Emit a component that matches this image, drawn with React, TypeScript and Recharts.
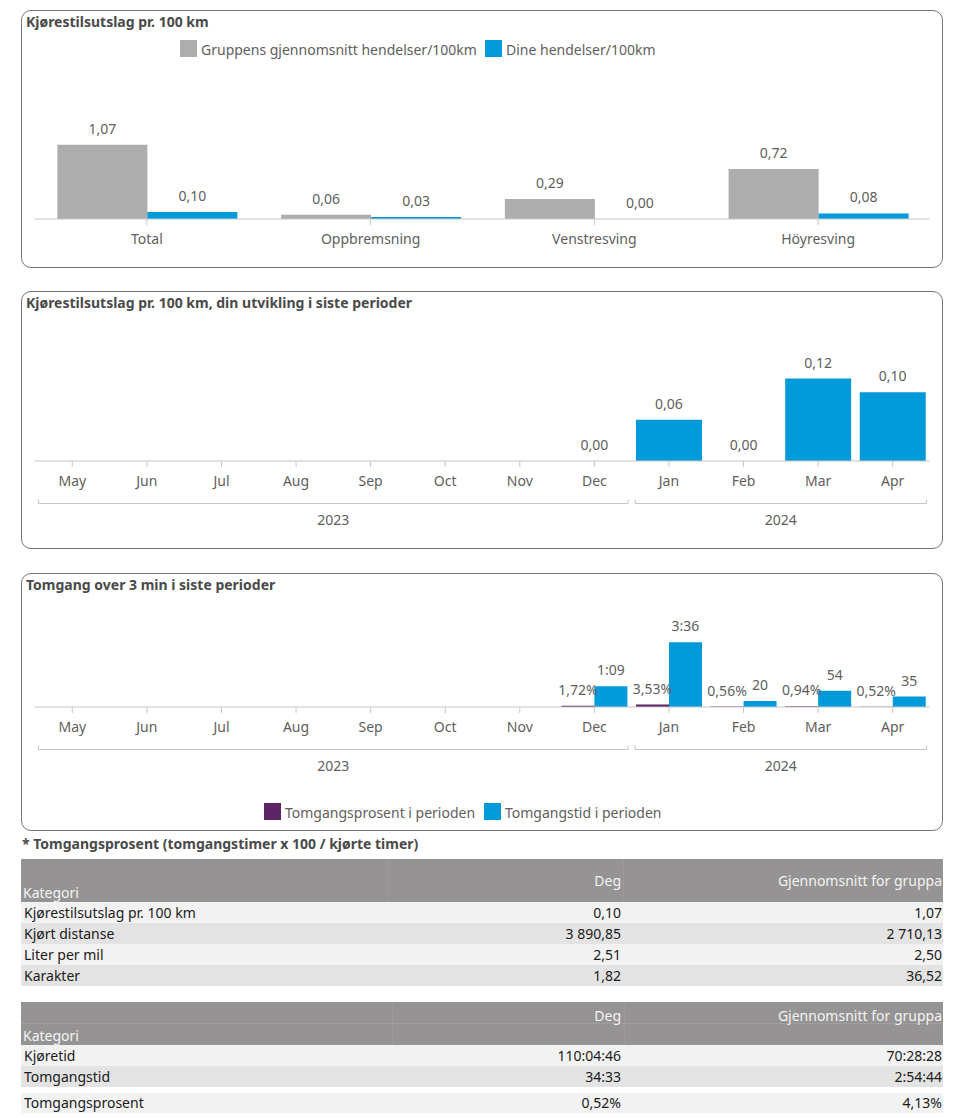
import React from 'react';
import { BarChart, Bar, XAxis, YAxis, LabelList } from 'recharts';

const FONT = '"Segoe UI", "Noto Sans", "Open Sans", sans-serif';
const AXIS_COLOR = '#C8C6C4';
const TEXT_COLOR = '#605E5C';
const GRAY = '#ADADAD';
const BLUE = '#0099DA';
const PURPLE = '#5C2367';

// Chart 1 data
const styleCategories = ['Total', 'Oppbremsning', 'Venstresving', 'Höyresving'];
const groupAvg = [1.07, 0.06, 0.29, 0.72];
const myEvents = [0.1, 0.03, 0.0, 0.08];

// Month axis
const months = ['May', 'Jun', 'Jul', 'Aug', 'Sep', 'Oct', 'Nov', 'Dec', 'Jan', 'Feb', 'Mar', 'Apr'];
const monthYears = ['2023', '2023', '2023', '2023', '2023', '2023', '2023', '2023', '2024', '2024', '2024', '2024'];

// Chart 2 data
const myTrend: (number | null)[] = [null, null, null, null, null, null, null, 0.0, 0.06, 0.0, 0.12, 0.1];

// Chart 3 data
const idlePct: (number | null)[] = [null, null, null, null, null, null, null, 1.72, 3.53, 0.56, 0.94, 0.52];
const idleSec: (number | null)[] = [null, null, null, null, null, null, null, 69, 216, 20, 54, 35];

// Tables
const table1Labels = ['Kjørestilsutslag pr. 100 km', 'Kjørt distanse', 'Liter per mil', 'Karakter'];
const table1Mine = ['0,10', '3 890,85', '2,51', '1,82'];
const table1Group = ['1,07', '2 710,13', '2,50', '36,52'];
const table2Labels = ['Kjøretid', 'Tomgangstid'];
const table2Mine = ['110:04:46', '34:33'];
const table2Group = ['70:28:28', '2:54:44'];
const pctLabel = 'Tomgangsprosent';
const pctMine = '0,52%';
const pctGroup = '4,13%';

const styleData = styleCategories.map((c, i) => ({ cat: c, group: groupAvg[i], mine: myEvents[i] }));
const trendData = months.map((m, i) => ({ month: m, value: myTrend[i] }));
const idleData = months.map((m, i) => ({ month: m, pct: idlePct[i], sec: idleSec[i] }));

const CHART_W = 922;
const CHART_H = 258;
const M_LEFT = 14;
const M_RIGHT = 13;
const PLOT_W = CHART_W - M_LEFT - M_RIGHT;
const BAND = PLOT_W / months.length;

const fmt2 = (v: any) => (v === null || v === undefined ? '' : Number(v).toFixed(2).replace('.', ','));
const fmtPct = (v: any) => (v === null || v === undefined ? '' : Number(v).toFixed(2).replace('.', ',') + '%');
const fmtSec = (v: any) => {
  if (v === null || v === undefined) return '';
  const s = Math.round(Number(v));
  if (s < 60) return String(s);
  const m = Math.floor(s / 60);
  const r = s % 60;
  return `${m}:${r < 10 ? '0' : ''}${r}`;
};
// keep zero-valued bars (so their "0,00" label is drawn) without making them visible
const zeroKeep = (v: any) => (v === 0 ? 0.01 : 0);

const labelStyle = { fill: TEXT_COLOR, fontSize: 14, fontFamily: FONT };

function makeMonthTick(yearOf: string[], band: number) {
  return (props: any) => {
    const { x, y, payload } = props;
    const i = payload && typeof payload.index === 'number' ? payload.index : props.index;
    const yr = yearOf[i];
    const isFirst = i === 0 || yearOf[i - 1] !== yr;
    let bracket = null;
    if (isFirst) {
      let n = 0;
      for (let j = i; j < yearOf.length && yearOf[j] === yr; j++) n++;
      const left = x - band / 2 + 3.5;
      const right = x + (n - 0.5) * band - 3.5;
      const by = y + 27.5;
      bracket = (
        <g>
          <path
            d={`M${left},${by - 4}L${left},${by}L${right},${by}L${right},${by - 4}`}
            stroke={AXIS_COLOR}
            strokeWidth={1}
            fill="none"
          />
          <text
            x={(left + right) / 2}
            y={by + 11.5}
            dy="0.71em"
            textAnchor="middle"
            fill={TEXT_COLOR}
            fontSize={14}
            fontFamily={FONT}
          >
            {yr}
          </text>
        </g>
      );
    }
    return (
      <g>
        <text x={x} y={y} dy="0.71em" textAnchor="middle" fill={TEXT_COLOR} fontSize={14} fontFamily={FONT}>
          {payload.value}
        </text>
        {bracket}
      </g>
    );
  };
}

const monthTick = makeMonthTick(monthYears, BAND);

function Panel({ top, title }: { top: number; title: string }) {
  return (
    <>
      <div
        style={{
          position: 'absolute',
          left: 21,
          top,
          width: 922,
          height: 258,
          boxSizing: 'border-box',
          border: '1px solid #777',
          borderRadius: 10,
        }}
      />
      <div
        style={{
          position: 'absolute',
          left: 26,
          top: top + 3,
          lineHeight: '18px',
          fontSize: 14,
          fontWeight: 700,
          color: '#4a4a4a',
          fontFamily: FONT,
          whiteSpace: 'nowrap',
        }}
      >
        {title}
      </div>
    </>
  );
}

function LegendItem({ x, y, color, text }: { x: number; y: number; color: string; text: string }) {
  return (
    <>
      <div style={{ position: 'absolute', left: x, top: y, width: 17, height: 17, background: color }} />
      <div
        style={{
          position: 'absolute',
          left: x + 21,
          top: y,
          lineHeight: '19px',
          fontSize: 14,
          color: TEXT_COLOR,
          fontFamily: FONT,
          whiteSpace: 'nowrap',
        }}
      >
        {text}
      </div>
    </>
  );
}

const cellText: React.CSSProperties = {
  position: 'absolute',
  fontSize: 14,
  fontFamily: FONT,
  whiteSpace: 'nowrap',
  color: '#1a1a1a',
};

function TableHeader({ top, height, col1, col2, catY, degY, line }: any) {
  return (
    <>
      <div style={{ position: 'absolute', left: 21, top, width: 922, height, background: '#959393' }} />
      <div style={{ position: 'absolute', left: col1, top, width: 1, height, background: '#9c9a9a' }} />
      <div style={{ position: 'absolute', left: col2, top, width: 1, height, background: '#9c9a9a' }} />
      {line ? <div style={{ position: 'absolute', left: 21, top: line, width: 922, height: 1, background: '#a09e9e' }} /> : null}
      <div style={{ ...cellText, color: '#f4f4f4', left: 23, top: catY - 10, lineHeight: '20px' }}>Kategori</div>
      <div style={{ ...cellText, color: '#f4f4f4', right: 962 - 621, top: degY - 10, lineHeight: '20px' }}>Deg</div>
      <div style={{ ...cellText, color: '#f4f4f4', right: 962 - 942, top: degY - 10, lineHeight: '20px' }}>
        Gjennomsnitt for gruppa
      </div>
    </>
  );
}

function TableRow({ top, height, bg, label, mine, group }: any) {
  return (
    <>
      <div style={{ position: 'absolute', left: 21, top, width: 922, height, background: bg }} />
      <div style={{ ...cellText, left: 24, top, lineHeight: `${height}px` }}>{label}</div>
      <div style={{ ...cellText, right: 962 - 621, top, lineHeight: `${height}px` }}>{mine}</div>
      <div style={{ ...cellText, right: 962 - 942, top, lineHeight: `${height}px` }}>{group}</div>
    </>
  );
}

export default function App() {
  return (
    <div
      style={{
        position: 'absolute',
        left: 0,
        top: 0,
        width: 962,
        height: 1118,
        background: '#fff',
        fontFamily: FONT,
        overflow: 'hidden',
      }}
    >
      {/* Panel 1 */}
      <Panel top={10} title="Kjørestilsutslag pr. 100 km" />
      <LegendItem x={180} y={40} color={GRAY} text="Gruppens gjennomsnitt hendelser/100km" />
      <LegendItem x={485} y={40} color={BLUE} text="Dine hendelser/100km" />
      <div style={{ position: 'absolute', left: 21, top: 10 }}>
        <BarChart
          width={CHART_W}
          height={CHART_H}
          data={styleData}
          margin={{ top: 105, right: M_RIGHT, bottom: 19, left: M_LEFT }}
          barCategoryGap="10%"
          barGap={0}
        >
          <YAxis hide domain={[0, 1.5]} />
          <XAxis
            dataKey="cat"
            height={30}
            tickSize={6}
            tickMargin={9}
            axisLine={{ stroke: AXIS_COLOR }}
            tickLine={{ stroke: AXIS_COLOR }}
            tick={{ fill: TEXT_COLOR, fontSize: 14, fontFamily: FONT }}
            interval={0}
          />
          <Bar dataKey="group" fill={GRAY} isAnimationActive={false} minPointSize={zeroKeep}>
            <LabelList dataKey="group" position="top" offset={11} formatter={fmt2} style={labelStyle} />
          </Bar>
          <Bar dataKey="mine" fill={BLUE} isAnimationActive={false} minPointSize={zeroKeep}>
            <LabelList dataKey="mine" position="top" offset={11} formatter={fmt2} style={labelStyle} />
          </Bar>
        </BarChart>
      </div>

      {/* Panel 2 */}
      <Panel top={291} title="Kjørestilsutslag pr. 100 km, din utvikling i siste perioder" />
      <div style={{ position: 'absolute', left: 21, top: 291 }}>
        <BarChart
          width={CHART_W}
          height={CHART_H}
          data={trendData}
          margin={{ top: 67, right: M_RIGHT, bottom: 58, left: M_LEFT }}
          barCategoryGap="5.8%"
          barGap={0}
        >
          <YAxis hide domain={[0, 0.15]} />
          <XAxis
            dataKey="month"
            height={30}
            tickSize={6}
            tickMargin={9}
            axisLine={{ stroke: AXIS_COLOR }}
            tickLine={{ stroke: AXIS_COLOR }}
            tick={monthTick}
            interval={0}
          />
          <Bar dataKey="value" fill={BLUE} isAnimationActive={false} minPointSize={zeroKeep}>
            <LabelList dataKey="value" position="top" offset={11} formatter={fmt2} style={labelStyle} />
          </Bar>
        </BarChart>
      </div>

      {/* Panel 3 */}
      <Panel top={573} title="Tomgang over 3 min i siste perioder" />
      <LegendItem x={264} y={803} color={PURPLE} text="Tomgangsprosent i perioden" />
      <LegendItem x={484} y={803} color={BLUE} text="Tomgangstid i perioden" />
      <div style={{ position: 'absolute', left: 21, top: 573 }}>
        <BarChart
          width={CHART_W}
          height={CHART_H}
          data={idleData}
          margin={{ top: 44, right: M_RIGHT, bottom: 94, left: M_LEFT }}
          barCategoryGap="5.8%"
          barGap={0}
        >
          <YAxis yAxisId="pct" hide domain={[0, 130]} />
          <YAxis yAxisId="sec" hide domain={[0, 300]} />
          <XAxis
            dataKey="month"
            height={30}
            tickSize={6}
            tickMargin={9}
            axisLine={{ stroke: AXIS_COLOR }}
            tickLine={{ stroke: AXIS_COLOR }}
            tick={monthTick}
            interval={0}
          />
          <Bar dataKey="pct" yAxisId="pct" fill={PURPLE} isAnimationActive={false}>
            <LabelList dataKey="pct" position="top" offset={11} formatter={fmtPct} style={labelStyle} />
          </Bar>
          <Bar dataKey="sec" yAxisId="sec" fill={BLUE} isAnimationActive={false}>
            <LabelList dataKey="sec" position="top" offset={11} formatter={fmtSec} style={labelStyle} />
          </Bar>
        </BarChart>
      </div>

      {/* Note */}
      <div
        style={{
          position: 'absolute',
          left: 22,
          top: 835,
          lineHeight: '18px',
          fontSize: 14,
          fontWeight: 700,
          color: '#4a4a4a',
          fontFamily: FONT,
          whiteSpace: 'nowrap',
        }}
      >
        * Tomgangsprosent (tomgangstimer x 100 / kjørte timer)
      </div>

      {/* Table 1 */}
      <TableHeader top={859} height={43} col1={387} col2={623} catY={893} degY={881} />
      {table1Labels.map((l, i) => (
        <TableRow
          key={l}
          top={902 + i * 21}
          height={21}
          bg={i % 2 === 0 ? '#F2F2F2' : '#E3E3E3'}
          label={l}
          mine={table1Mine[i]}
          group={table1Group[i]}
        />
      ))}

      {/* Table 2 */}
      <TableHeader top={1002} height={43} col1={392} col2={624} catY={1036} degY={1016} line={1023} />
      {table2Labels.map((l, i) => (
        <TableRow
          key={l}
          top={1045 + i * 21}
          height={21}
          bg={i % 2 === 0 ? '#F2F2F2' : '#E3E3E3'}
          label={l}
          mine={table2Mine[i]}
          group={table2Group[i]}
        />
      ))}
      <TableRow top={1093} height={20} bg="#F2F2F2" label={pctLabel} mine={pctMine} group={pctGroup} />
    </div>
  );
}
